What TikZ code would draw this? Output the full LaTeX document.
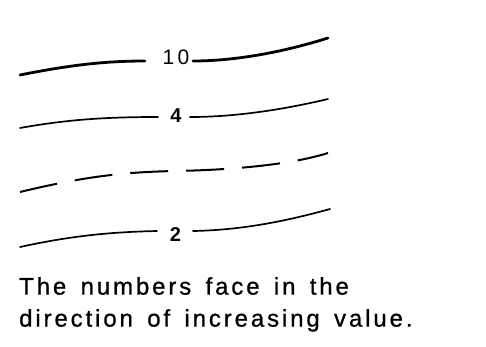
\documentclass[tikz,border=0pt]{standalone}
\usepackage{fontspec}
\setmainfont{Liberation Sans}
\newfontfamily\capfont[LetterSpace=12,WordSpace=1.5,FakeBold=0.8]{Liberation Sans}
\newfontfamily\tenfont[LetterSpace=15]{Liberation Sans}
\begin{document}
\begin{tikzpicture}[x=1pt,y=-1pt,
  contour/.style={line width=1.7pt,line cap=round},
  heavy/.style={line width=2.8pt,line cap=round},
  dashline/.style={line width=2pt,dash pattern=on 38pt off 18pt},
  lab/.style={font=\fontsize{20}{20}\selectfont\bfseries,inner sep=0pt},
  labten/.style={font=\tenfont\fontsize{21}{21}\selectfont,inner sep=0pt},
  caption/.style={font=\capfont\fontsize{24}{32}\selectfont,align=left,anchor=north west,inner sep=0pt}]
\useasboundingbox (0,0) rectangle (486,346);
% index contour 10
\node[labten] (n10) at (176,57) {10};
\coordinate (a10) at (20,75);
\coordinate (b10) at (328,38);
\draw[heavy] (a10) .. controls (70,65) and (105,61) .. (145,61);
\draw[heavy] (193,61) .. controls (240,61) and (290,50) .. (b10);
% contour 4
\node[lab] (n4) at (176,116) {4};
\coordinate (a4) at (20,128);
\coordinate (b4) at (328,99);
\draw[contour] (a4) .. controls (70,119) and (110,117) .. (158,117);
\draw[contour] (190,117) .. controls (240,117) and (290,108) .. (b4);
% dashed contour
\coordinate (ad) at (20,192);
\coordinate (md) at (175,171);
\coordinate (bd) at (328,153);
\draw[dashline] (ad) .. controls (90,175) and (130,172) .. (md) .. controls (230,170) and (290,165) .. (bd);
% contour 2
\node[lab] (n2) at (175.5,234.5) {2};
\coordinate (a2) at (20,247);
\coordinate (b2) at (330,209);
\draw[contour] (a2) .. controls (70,236) and (110,232) .. (157,231);
\draw[contour] (193,231) .. controls (245,230) and (290,220) .. (b2);
% caption
\node[caption] (cap) at (19,277) {The numbers face in the\\direction of increasing value.};
\end{tikzpicture}
\end{document}
